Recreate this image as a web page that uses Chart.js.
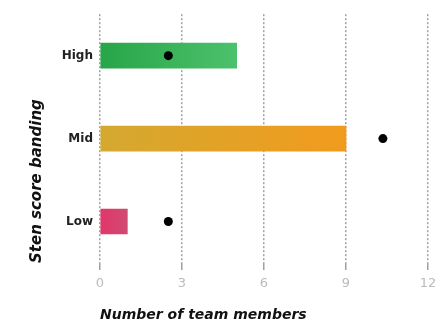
<!DOCTYPE html>
<html>
<head>
<meta charset="utf-8">
<script src="https://cdn.jsdelivr.net/npm/chart.js@4.4.0/dist/chart.umd.min.js"></script>
<style>
  html, body { margin: 0; padding: 0; background: #fff; }
  #wrap { width: 439px; height: 324px; }
</style>
</head>
<body>
<div id="wrap"><canvas id="chart" width="439" height="324"></canvas></div>
<script>
// Sten score bands and their team member counts
const bands = ['High', 'Mid', 'Low'];
const teamCounts = [5, 9, 1];
// Black dot markers (comparison values)
const markerValues = [2.5, 10.35, 2.5];
const xTicks = [0, 3, 6, 9, 12];

// Gradient colours for each band (start, end)
const bandColours = [
    ['#27a548', '#4cc16c'],
    ['#d4a930', '#f19b1d'],
    ['#e2366a', '#cf4a70']
];

// Builds a gradient running from the axis to the end of each bar
function barGradient(context) {
    const chart = context.chart;
    const area = chart.chartArea;
    if (!area) return bandColours[context.dataIndex][0];
    const xScale = chart.scales.x;
    const end = xScale.getPixelForValue(teamCounts[context.dataIndex]);
    const g = chart.ctx.createLinearGradient(area.left, 0, end, 0);
    g.addColorStop(0, bandColours[context.dataIndex][0]);
    g.addColorStop(1, bandColours[context.dataIndex][1]);
    return g;
}

const ctx = document.getElementById('chart').getContext('2d');
new Chart(ctx, {
    type: 'bar',
    data: {
        labels: bands,
        datasets: [
            {
                type: 'line',
                label: 'Marker',
                data: markerValues,
                showLine: false,
                pointRadius: 4.5,
                pointBackgroundColor: '#000',
                pointBorderWidth: 0,
                order: 0
            },
            {
                label: 'Team members',
                data: teamCounts,
                backgroundColor: barGradient,
                barThickness: 25,
                order: 1
            }
        ]
    },
    options: {
        indexAxis: 'y',
        responsive: false,
        animation: false,
        layout: { padding: { top: 5, right: 11, left: 28, bottom: 0 } },
        plugins: {
            legend: { display: false },
            tooltip: { enabled: false }
        },
        scales: {
            x: {
                min: 0,
                max: 12,
                afterBuildTicks: (axis) => { axis.ticks = xTicks.map(v => ({ value: v })); },
                afterFit: (axis) => { axis.height = 61; axis.paddingRight = 0; },
                grid: {
                    color: '#a0a0a0',
                    lineWidth: 1.5,
                    drawTicks: true,
                    tickLength: 7
                },
                border: { display: false, dash: [2, 2] },
                ticks: {
                    color: '#bbbbbb',
                    padding: 6,
                    font: { family: 'DejaVu Sans, sans-serif', size: 13 }
                },
                title: {
                    display: true,
                    align: 'start',
                    text: 'Number of team members',
                    color: '#111',
                    padding: { top: 14, bottom: 0 },
                    font: { family: 'DejaVu Sans, sans-serif', size: 14, weight: 'bold', style: 'italic' }
                }
            },
            y: {
                grid: { display: false, drawTicks: false },
                border: { display: false },
                afterFit: (axis) => { axis.width = 72; },
                ticks: {
                    color: '#222',
                    padding: 7,
                    font: { family: 'DejaVu Sans, sans-serif', size: 12, weight: 'bold' }
                },
                title: {
                    display: true,
                    align: 'start',
                    text: 'Sten score banding',
                    color: '#111',
                    padding: 0,
                    font: { family: 'DejaVu Sans, sans-serif', size: 15, weight: 'bold', style: 'italic' }
                }
            }
        }
    }
});
</script>
</body>
</html>
